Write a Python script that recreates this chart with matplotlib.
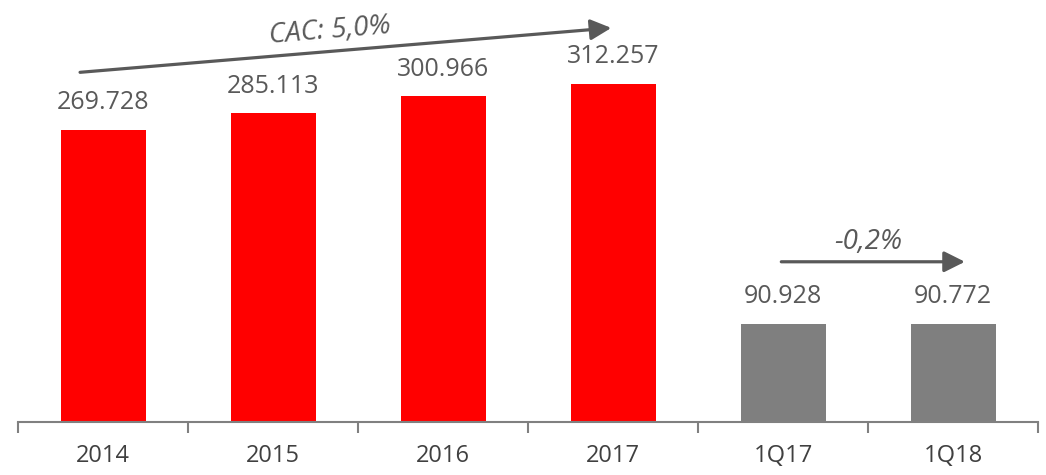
import numpy as np
import matplotlib
matplotlib.use("Agg")
import matplotlib.pyplot as plt

categories = ["2014", "2015", "2016", "2017", "1Q17", "1Q18"]
values = [269.728, 285.113, 300.966, 312.257, 90.928, 90.772]
labels = ["269.728", "285.113", "300.966", "312.257", "90.928", "90.772"]
colors = ["#FF0000"] * 4 + ["#7F7F7F"] * 2

plt.rcParams["font.family"] = ["Open Sans", "DejaVu Sans"]

fig = plt.figure(figsize=(10.46, 4.75), dpi=100)
ax = fig.add_axes([18 / 1046, 53 / 475, 1020 / 1046, 422 / 475])

x = np.arange(len(categories))
ax.bar(x, values, width=0.5, color=colors)

for xi, v, lab in zip(x, values, labels):
    ax.text(xi, v + 25, lab, ha="center", va="center", fontsize=18, color="#595959")

ax.set_xlim(-0.5, 5.5)
ax.set_ylim(0, 389.8)

# ticks between categories, labels at centers
ax.set_xticks(np.arange(-0.5, 6, 1))
ax.set_xticklabels([])
ax.set_xticks(x, minor=True)
ax.set_xticklabels(categories, minor=True, fontsize=17, color="#404040")
ax.tick_params(axis="x", which="major", length=8, width=1.5, color="#808080", direction="out")
ax.tick_params(axis="x", which="minor", length=0, pad=16)
ax.set_yticks([])

for s in ["top", "right", "left"]:
    ax.spines[s].set_visible(False)
ax.spines["bottom"].set_color("#808080")
ax.spines["bottom"].set_linewidth(1.5)

arrow_kw = dict(arrowstyle="-|>,head_length=0.9,head_width=0.45", color="#595959",
                lw=2.3, mutation_scale=14, shrinkA=0, shrinkB=0)
ax.annotate("", xy=(2.99, 364), xytext=(-0.135, 323), arrowprops=arrow_kw,
            annotation_clip=False)
ax.text(1.335, 361, "CAC: 5,0%", ha="center", va="center", fontsize=20, style="italic",
        color="#595959", rotation=4.7)

ax.annotate("", xy=(5.07, 148), xytext=(3.99, 148), arrowprops=arrow_kw,
            annotation_clip=False)
ax.text(4.5, 166, "-0,2%", ha="center", va="center", fontsize=20, style="italic",
        color="#595959")

fig.savefig("out.png", dpi=100)
